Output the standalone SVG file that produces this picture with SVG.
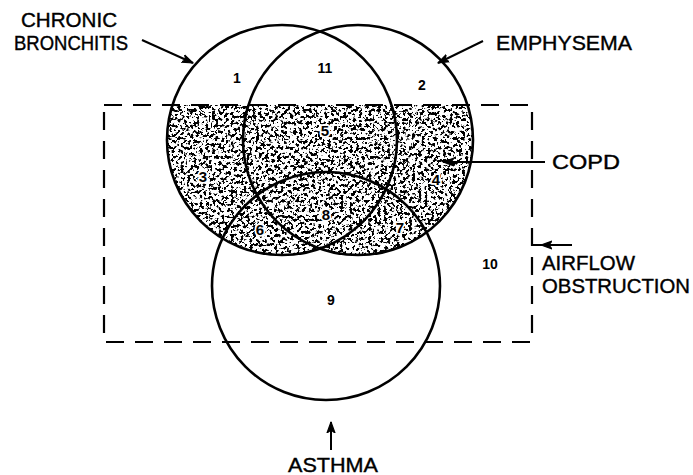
<svg xmlns="http://www.w3.org/2000/svg" width="693" height="475" viewBox="0 0 693 475">
<style>
.c{fill:none;stroke:#000;stroke-width:2.6}
.lbl{font-family:"Liberation Sans",Arial,sans-serif;font-size:20px;fill:#000;stroke:#000;stroke-width:0.4}
.num{font-family:"Liberation Sans",Arial,sans-serif;font-size:14px;font-weight:bold;fill:#000;text-anchor:middle}
.numw{font-family:"Liberation Sans",Arial,sans-serif;font-size:15px;font-weight:bold;fill:#000;text-anchor:middle;stroke:#fff;stroke-width:3.5;paint-order:stroke;stroke-linejoin:round}
.ar{fill:none;stroke:#000;stroke-width:2}
.dash{fill:none;stroke:#000;stroke-width:2.2;stroke-dasharray:18 11}
</style>
<defs>
<marker id="ah" viewBox="0 0 12 10" refX="11" refY="5" markerWidth="12" markerHeight="10" markerUnits="userSpaceOnUse" orient="auto">
<path d="M0,1 L11,5 L0,9 L3,5 Z" fill="#000" stroke="#000" stroke-width="1.2" stroke-linejoin="round"/>
</marker>
<clipPath id="cbem">
<circle cx="282" cy="140" r="115"/>
<circle cx="358" cy="140" r="115"/>
</clipPath>
<filter id="stip" x="0" y="0" width="1" height="1">
<feTurbulence type="fractalNoise" baseFrequency="0.32" numOctaves="3" seed="11" result="n"/>
<feColorMatrix in="n" type="matrix" values="0 0 0 0 0  0 0 0 0 0  0 0 0 0 0  -16 0 0 0 7.7" result="d"/>
<feComposite in="d" in2="SourceAlpha" operator="in"/>
</filter>
</defs>
<rect width="693" height="475" fill="#fff"/>
<g id="copd-shading" clip-path="url(#cbem)">
<rect x="160" y="105" width="320" height="160" fill="#000" filter="url(#stip)"/>
</g>
<g id="chronic-bronchitis">
<circle class="c" cx="282" cy="140" r="115"/>
<text class="lbl" x="21" y="27" textLength="96" lengthAdjust="spacingAndGlyphs">CHRONIC</text>
<text class="lbl" x="14" y="50" textLength="114" lengthAdjust="spacingAndGlyphs">BRONCHITIS</text>
</g>
<g id="emphysema">
<circle class="c" cx="358" cy="140" r="115"/>
<text class="lbl" x="496" y="50" textLength="136" lengthAdjust="spacingAndGlyphs" style="font-size:21px">EMPHYSEMA</text>
</g>
<g id="asthma">
<circle class="c" cx="326" cy="286" r="114"/>
<text class="lbl" x="288" y="472" textLength="90" lengthAdjust="spacingAndGlyphs" style="font-size:21px">ASTHMA</text>
</g>
<g id="airflow-obstruction">
<rect class="dash" x="104" y="105" width="428" height="237"/>
<text class="lbl" x="542" y="270" textLength="93" lengthAdjust="spacingAndGlyphs">AIRFLOW</text>
<text class="lbl" x="542" y="293" textLength="148" lengthAdjust="spacingAndGlyphs">OBSTRUCTION</text>
</g>
<g id="copd">
<text class="lbl" x="552" y="169" textLength="68" lengthAdjust="spacingAndGlyphs" style="font-size:21px">COPD</text>
</g>
<g id="regions">
<text class="num" x="237" y="83">1</text>
<text class="num" x="325" y="73">11</text>
<text class="num" x="422" y="90">2</text>
<text class="numw" x="325" y="136">5</text>
<text class="numw" x="203" y="182">3</text>
<text class="numw" x="436" y="185">4</text>
<text class="numw" x="326" y="220">8</text>
<text class="numw" x="260" y="235">6</text>
<text class="numw" x="400" y="233">7</text>
<text class="num" x="331" y="305">9</text>
<text class="num" x="490" y="269">10</text>
</g>
<g id="connectors">
<line class="ar" x1="142" y1="40" x2="193" y2="63" marker-end="url(#ah)"/>
<line class="ar" x1="483" y1="41" x2="438" y2="63" marker-end="url(#ah)"/>
<line class="ar" x1="545" y1="162" x2="443" y2="162" marker-end="url(#ah)"/>
<line class="ar" x1="572" y1="245" x2="532" y2="245"/>
<line class="ar" x1="572" y1="245" x2="541" y2="245" marker-end="url(#ah)"/>
<line class="ar" x1="331" y1="450" x2="331" y2="422" marker-end="url(#ah)"/>
</g>
</svg>
